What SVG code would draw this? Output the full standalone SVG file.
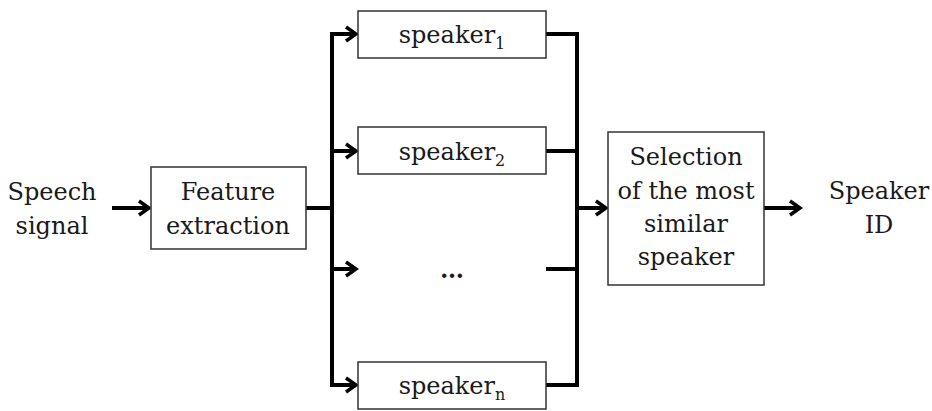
<svg xmlns="http://www.w3.org/2000/svg" width="932" height="411" viewBox="0 0 932 411">
  <style>
    .box { fill: #ffffff; stroke: #333333; stroke-width: 1.5; }
    .lbl { font-family: 'DejaVu Serif', 'Liberation Serif', serif; font-size: 24px; fill: #1a1a1a; text-anchor: middle; }
    .sub { font-size: 16px; }
    .wire { fill: none; stroke: #000000; stroke-width: 4; }
  </style>
  <defs>
    <marker id="arrow" markerUnits="userSpaceOnUse" markerWidth="16" markerHeight="20" refX="13" refY="10" orient="auto">
      <path d="M3,3 L13,10 L3,17" fill="none" stroke="#000000" stroke-width="3.5" stroke-linejoin="miter"/>
    </marker>
  </defs>

  <rect width="932" height="411" fill="#ffffff"/>

  <!-- connectors -->
  <g id="connectors" class="wire">
    <line x1="112" y1="208" x2="149" y2="208" marker-end="url(#arrow)"/>
    <line x1="306" y1="208" x2="332" y2="208"/>
    <!-- fan-out bus -->
    <line x1="332" y1="32" x2="332" y2="387"/>
    <path d="M332,34 H356" marker-end="url(#arrow)"/>
    <path d="M332,151 H356" marker-end="url(#arrow)"/>
    <path d="M332,269 H356" marker-end="url(#arrow)"/>
    <path d="M332,385 H356" marker-end="url(#arrow)"/>
    <!-- fan-in bus -->
    <path d="M546,34 H577 V387"/>
    <path d="M546,151 H577"/>
    <path d="M546,269 H577"/>
    <path d="M546,385 H577"/>
    <line x1="577" y1="208" x2="606" y2="208" marker-end="url(#arrow)"/>
    <line x1="764" y1="208" x2="800" y2="208" marker-end="url(#arrow)"/>
  </g>

  <g id="speech-signal">
    <text class="lbl" x="52" y="200">Speech</text>
    <text class="lbl" x="52" y="234">signal</text>
  </g>

  <g id="feature-extraction">
    <rect class="box" x="151" y="167" width="155" height="82"/>
    <text class="lbl" x="228" y="200">Feature</text>
    <text class="lbl" x="228" y="234">extraction</text>
  </g>

  <g id="speaker-1">
    <rect class="box" x="358" y="11" width="188" height="47"/>
    <text class="lbl" x="452" y="43">speaker<tspan class="sub" dy="6">1</tspan></text>
  </g>

  <g id="speaker-2">
    <rect class="box" x="358" y="127" width="188" height="47"/>
    <text class="lbl" x="452" y="160">speaker<tspan class="sub" dy="6">2</tspan></text>
  </g>

  <g id="speaker-ellipsis">
    <text class="lbl" x="452" y="278" style="font-weight:bold">…</text>
  </g>

  <g id="speaker-n">
    <rect class="box" x="358" y="362" width="188" height="47"/>
    <text class="lbl" x="452" y="394">speaker<tspan class="sub" dy="6">n</tspan></text>
  </g>

  <g id="selection">
    <rect class="box" x="608" y="132" width="156" height="153"/>
    <text class="lbl" x="686" y="165">Selection</text>
    <text class="lbl" x="686" y="199">of the most</text>
    <text class="lbl" x="686" y="232">similar</text>
    <text class="lbl" x="686" y="265">speaker</text>
  </g>

  <g id="speaker-id">
    <text class="lbl" x="879" y="199">Speaker</text>
    <text class="lbl" x="879" y="233">ID</text>
  </g>
</svg>
